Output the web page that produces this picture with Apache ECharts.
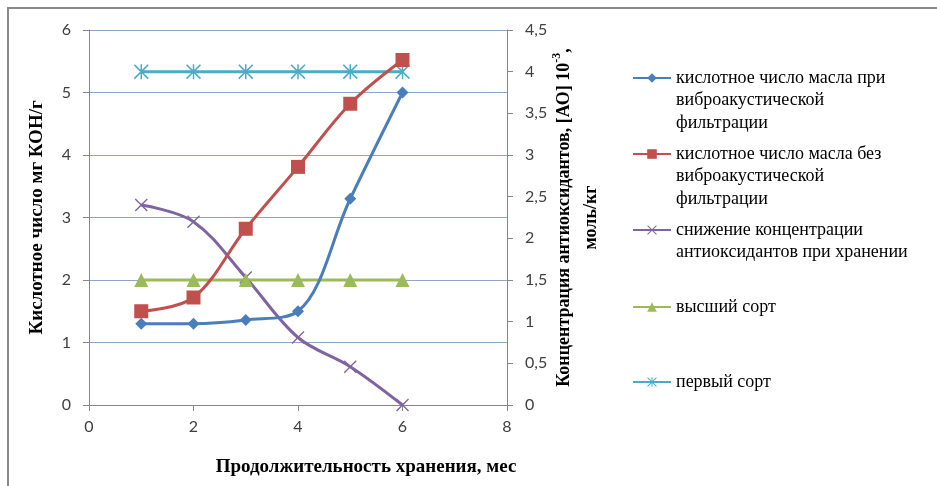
<!DOCTYPE html>
<html>
<head>
<meta charset="utf-8">
<script src="https://cdn.jsdelivr.net/npm/echarts@6/dist/echarts.min.js"></script>
<style>
html,body{margin:0;padding:0;background:#fff;}
#wrap{position:relative;width:937px;height:486px;overflow:hidden;}
#chart{position:absolute;left:0;top:0;width:937px;height:486px;}
#frame{position:absolute;left:7px;top:7px;width:940px;height:490px;border-left:2px solid #8a8a8a;border-top:2px solid #8a8a8a;pointer-events:none;}
</style>
</head>
<body>
<div id="wrap"><div id="chart"></div><div id="frame"></div></div>
<script>
// ---- data ----
const months = [1, 2, 3, 4, 5, 6];
const acidWithFiltration = [1.3, 1.3, 1.36, 1.5, 3.3, 5.0];
const acidWithoutFiltration = [1.5, 1.72, 2.82, 3.81, 4.82, 5.52];
const antioxidantDecrease = [2.4, 2.2, 1.53, 0.81, 0.46, 0.0];
const topGrade = [2, 2, 2, 2, 2, 2];
const firstGrade = [4, 4, 4, 4, 4, 4];
const seriesNames = [
  'кислотное число масла при\nвиброакустической\nфильтрации',
  'кислотное число масла без\nвиброакустической\nфильтрации',
  'снижение концентрации\nантиоксидантов при хранении',
  'высший сорт',
  'первый сорт'
];
const xTitle = 'Продолжительность хранения, мес';
const yLeftTitle = 'Кислотное число мг КОН/г';

// ---- styling ----
const colors = ['#4A7EBB', '#C0504D', '#8064A2', '#9BBB59', '#4BACC6'];
const xPath = 'path://M0,1.5L1.5,0L10,8.5L18.5,0L20,1.5L11.5,10L20,18.5L18.5,20L10,11.5L1.5,20L0,18.5L8.5,10Z';
const starPath = 'path://M0,1.5L1.5,0L10,8.5L18.5,0L20,1.5L11.5,10L20,18.5L18.5,20L10,11.5L1.5,20L0,18.5L8.5,10Z M9,0L11,0L11,20L9,20Z';
const symbols = ['diamond', 'rect', xPath, 'triangle', starPath];
const symbolSizes = [12, 14, 13, 14, 15];
const yAxisIdx = [0, 0, 1, 0, 1];
const smoothVals = [0.35, 0.35, 0.35, false, false];
const dataSets = [acidWithFiltration, acidWithoutFiltration, antioxidantDecrease, topGrade, firstGrade];

const serif = '"Liberation Serif", "DejaVu Serif", serif';
const sans = 'Lato, "Open Sans", sans-serif';
const LH = 22.5;
const iconY = [78, 154, 230, 307, 382];

const series = dataSets.map((d, i) => ({
  name: seriesNames[i],
  type: 'line',
  yAxisIndex: yAxisIdx[i],
  data: months.map((m, k) => [m, d[k]]),
  smooth: smoothVals[i],
  symbol: symbols[i],
  symbolSize: symbolSizes[i],
  showAllSymbol: true,
  lineStyle: { color: colors[i], width: 3 },
  itemStyle: { color: colors[i], borderWidth: 0 },
  emphasis: { disabled: true },
  animation: false,
  z: [3, 3, 2, 2, 2][i]
}));

const legends = seriesNames.map((n, i) => {
  const lines = n.split('\n').length;
  const total = 2 * lines - 1;
  return {
    data: [n],
    orient: 'vertical',
    left: 632,
    top: iconY[i] - total * LH / 2,
    padding: 0,
    itemWidth: 38,
    itemHeight: 12,
    itemGap: 0,
    selectedMode: false,
    formatter: name => '\n'.repeat(lines - 1) + name,
    textStyle: { fontFamily: serif, fontSize: 18, color: '#000', lineHeight: LH }
  };
});

const chart = echarts.init(document.getElementById('chart'), null, { renderer: 'canvas' });
chart.setOption({
  animation: false,
  backgroundColor: '#fff',
  grid: { left: 89, right: 430, top: 30, bottom: 81 },
  legend: legends,
  xAxis: {
    type: 'value', min: 0, max: 8, interval: 2,
    name: xTitle, nameLocation: 'middle', nameGap: 53,
    nameTextStyle: { fontFamily: serif, fontSize: 19, fontWeight: 'bold', color: '#000', padding: [0, 0, 0, 136] },
    axisLine: { show: true, lineStyle: { color: '#868686', width: 1 } },
    axisTick: { show: true, inside: false, length: 6, lineStyle: { color: '#868686' } },
    axisLabel: { fontFamily: sans, fontSize: 16, color: '#404040', margin: 14 },
    splitLine: { show: false }
  },
  yAxis: [
    {
      type: 'value', min: 0, max: 6, interval: 1, position: 'left',
      name: yLeftTitle, nameLocation: 'middle', nameGap: 42, nameRotate: 90,
      nameTextStyle: { fontFamily: serif, fontSize: 19, fontWeight: 'bold', color: '#000' },
      axisLine: { show: true, lineStyle: { color: '#868686', width: 1 } },
      axisTick: { show: true, inside: false, length: 6, lineStyle: { color: '#868686' } },
      axisLabel: { fontFamily: sans, fontSize: 16, color: '#404040', margin: 18 },
      splitLine: { show: true, lineStyle: { color: '#8EA6C6', width: 1 } }
    },
    {
      type: 'value', min: 0, max: 4.5, interval: 0.5, position: 'right',
      name: '{a|Концентрация антиоксидантов, [АО] 10}{s|-3}{a|,}\n{a|моль/кг}',
      nameLocation: 'middle', nameGap: 33, nameRotate: 90,
      nameTextStyle: {
        fontFamily: serif, fontSize: 18, fontWeight: 'bold', color: '#000', align: 'center',
        rich: {
          a: { fontFamily: serif, fontSize: 18, fontWeight: 'bold', color: '#000', lineHeight: 27 },
          s: { fontFamily: serif, fontSize: 12, fontWeight: 'bold', color: '#000', verticalAlign: 'top', lineHeight: 16 }
        }
      },
      axisLine: { show: true, lineStyle: { color: '#868686', width: 1 } },
      axisTick: { show: true, inside: false, length: 6, lineStyle: { color: '#868686' } },
      axisLabel: { fontFamily: sans, fontSize: 16, color: '#404040', margin: 18, formatter: v => String(v).replace('.', ',') },
      splitLine: { show: false }
    }
  ],
  series: series
});
</script>
</body>
</html>
